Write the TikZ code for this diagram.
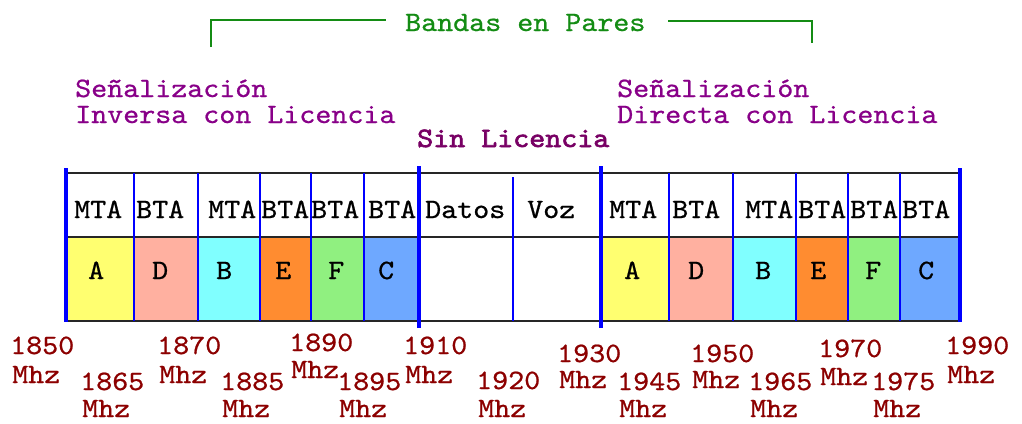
\documentclass[tikz,border=0pt]{standalone}
\usepackage{fontspec}
\usepackage{graphicx}
\newfontfamily\mymono[FakeBold=0.7]{lmmono10-regular.otf}
\newfontfamily\mymonob[FakeBold=2.2]{lmmono10-regular.otf}
\definecolor{cA}{RGB}{255,255,112}
\definecolor{cD}{RGB}{255,176,160}
\definecolor{cB}{RGB}{128,255,255}
\definecolor{cE}{RGB}{255,140,48}
\definecolor{cF}{RGB}{144,240,128}
\definecolor{cC}{RGB}{110,168,255}
\definecolor{pur}{RGB}{136,0,136}
\definecolor{dpur}{RGB}{120,0,100}
\definecolor{grn}{RGB}{20,140,20}
\definecolor{fred}{RGB}{140,0,0}
\definecolor{bl}{RGB}{0,0,255}
\newcommand\sq[1]{\scalebox{1}[0.92]{#1}}
\begin{document}
\begin{tikzpicture}[x=1pt,y=-1pt,
  txt/.style={anchor=base west, inner sep=0pt, font=\mymono\fontsize{30.5}{32}\selectfont},
  sig/.style={txt, text=pur},
  cell/.style={txt, text=black},
  freq/.style={txt, text=fred},
  hline/.style={line width=2pt, draw=black!85},
  thin/.style={line width=1.5pt, draw=bl},
  thick/.style={line width=4pt, draw=bl},
  brk/.style={line width=2pt, draw=grn}]
\useasboundingbox (0,0) rectangle (1022,423);

% coloured cells
\foreach \a/\b/\c in {66/134/cA,134/198/cD,198/260/cB,260/311/cE,311/364/cF,364/419/cC,
                      601/669/cA,669/733/cD,733/796/cB,796/848/cE,848/900/cF,900/960/cC}
  \fill[\c] (\a,237) rectangle (\b,321);

% horizontal lines
\draw[hline] (66,173) -- (960,173);
\draw[hline] (66,237) -- (960,237);
\draw[hline] (66,321) -- (960,321);

% thin separators
\foreach \x in {134,198,260,311,364,669,733,796,848,900}
  \draw[thin] (\x,173) -- (\x,321);
\draw[thin] (513,177) -- (513,321);

% thick separators
\draw[thick] (66,168) -- (66,322);
\draw[thick] (419,166) -- (419,328);
\draw[thick] (601,166) -- (601,328);
\draw[thick] (960,168) -- (960,322);

% top row labels
\foreach \n/\x/\t in {l1/74/MTA,l2/136/BTA,l3/208/MTA,l4/261/BTA,l5/311/BTA,l6/368/BTA,
                      dat/425/Datos,voz/527/Voz,
                      r1/609/MTA,r2/672/BTA,r3/745/MTA,r4/798/BTA,r5/850/BTA,r6/902/BTA}
  \node[cell] (t\n) at (\x,218) {\sq{\t}};

% band letters
\foreach \n/\x/\t in {l1/88/A,l2/152/D,l3/216/B,l4/275/E,l5/328/F,l6/378/C,
                      r1/624/A,r2/688/D,r3/755/B,r4/810/E,r5/865/F,r6/918/C}
  \node[cell] (b\n) at (\x,279) {\sq{\t}};

% headings
\node[sig] (s1a) at (75,97) {\sq{Señalización}};
\node[sig] (s1b) at (75,123) {\sq{Inversa con Licencia}};
\node[sig] (s2a) at (617,97) {\sq{Señalización}};
\node[sig] (s2b) at (617,123) {\sq{Directa con Licencia}};
\node[txt, text=dpur, font=\mymonob\fontsize{30.5}{32}\selectfont] (sin) at (417,147) {\sq{Sin Licencia}};

% bracket
\node[txt, text=grn] (bandas) at (405,31) {\sq{Bandas en Pares}};
\coordinate (bl1) at (211,47);
\coordinate (bl2) at (211,20);
\coordinate (bl3) at (386,20);
\coordinate (br1) at (668,21);
\coordinate (br2) at (812,21);
\coordinate (br3) at (812,43);
\draw[brk] (bl1) -- (bl2) -- (bl3);
\draw[brk] (br1) -- (br2) -- (br3);

% frequency labels
\foreach \f/\x/\y/\m in {1850/13/354/383,1865/83/390/417,1870/160/354/383,1885/223/390/417,
                         1890/292/351/378,1895/340/390/417,1910/406/354/383,1920/479/389/417,
                         1930/560/362/388,1945/620/390/417,1950/693/362/388,1965/751/390/417,
                         1970/821/357/385,1975/874/390/417,1990/948/354/383}{
  \node[freq] (f\f) at (\x-3,\y) {\sq{\f}};
  \node[freq] (m\f) at (\x-1,\m) {\sq{Mhz}};
}
\end{tikzpicture}
\end{document}
